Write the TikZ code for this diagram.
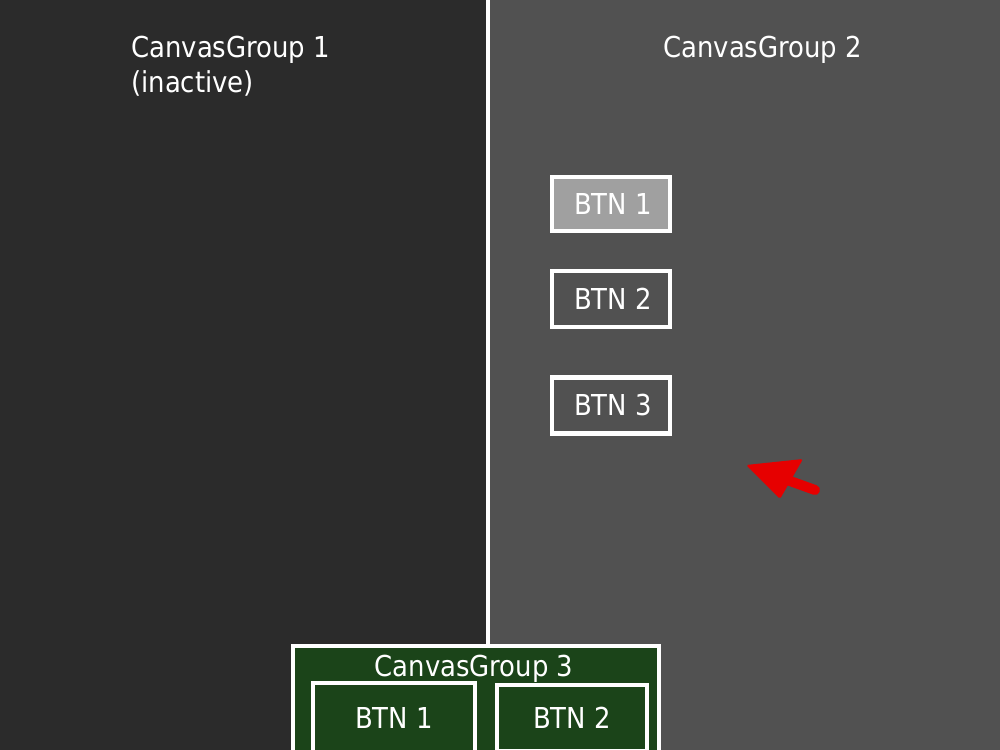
\documentclass[tikz,border=0pt]{standalone}
\usepackage{fontspec}
\setmainfont{DejaVu Sans Condensed}
\usetikzlibrary{positioning}
\definecolor{darkbg}{RGB}{43,43,43}
\definecolor{midbg}{RGB}{81,81,81}
\definecolor{groupgreen}{RGB}{27,68,25}
\definecolor{btngray}{RGB}{160,160,160}
\definecolor{arrowred}{RGB}{230,0,0}
\tikzset{
  grouptitle/.style={font=\fontsize{16.4}{20}\selectfont,text=white,inner sep=0pt},
  btnbox/.style={draw=white,line width=0.09cm,line cap=round,
    minimum width=2.36cm,minimum height=1.12cm,inner sep=0pt,
    font=\fontsize{16.4}{20}\selectfont,text=white},
}

\begin{document}
\begin{tikzpicture}[x=0.02cm,y=-0.02cm]
  \useasboundingbox (0,0) rectangle (1000,750);
  \clip (0,0) rectangle (1000,750);
  \fill[darkbg] (0,0) rectangle (488,750);
  \fill[midbg] (488,0) rectangle (1000,750);
  % group titles
  \node[grouptitle,anchor=base west] (g1title) at (131,58) {CanvasGroup 1};
  \node[grouptitle,anchor=base west] (g1state) at (131,92) {(inactive)};
  \node[grouptitle,anchor=base west] (g2title) at (663,58) {CanvasGroup 2};
  % buttons of group 2
  \node[btnbox,fill=btngray,minimum height=1.08cm] (btn1) at (611,204) {\kern0.08cm BTN 1};
  \node[btnbox] (btn2) at (611,299) {\kern0.08cm BTN 2};
  \node[btnbox] (btn3) at (611,405.5) {\kern0.08cm BTN 3};
  % group 3
  \node[btnbox,fill=groupgreen,minimum width=7.32cm,minimum height=3.08cm] (g3) at (476,723) {};
  \node[grouptitle,anchor=base] (g3title) at (474,676) {CanvasGroup 3};
  \node[btnbox,minimum width=3.24cm,minimum height=1.4cm] (g3btn1) at (394,718) {BTN 1};
  \node[btnbox,minimum width=3.0cm,minimum height=1.32cm] (g3btn2) at (572,718) {BTN 2};
  % divider
  \coordinate (divtop) at (488,0);
  \draw[white,line width=0.08cm] (divtop) -- (divtop |- g3.north);
  % pointer
  \fill[arrowred,rounded corners=1pt] (746,465) -- (803,459) -- (780,499) -- cycle;
  \draw[arrowred,line width=0.2cm,line cap=round] (790,481) -- (815,490);
\end{tikzpicture}
\end{document}
